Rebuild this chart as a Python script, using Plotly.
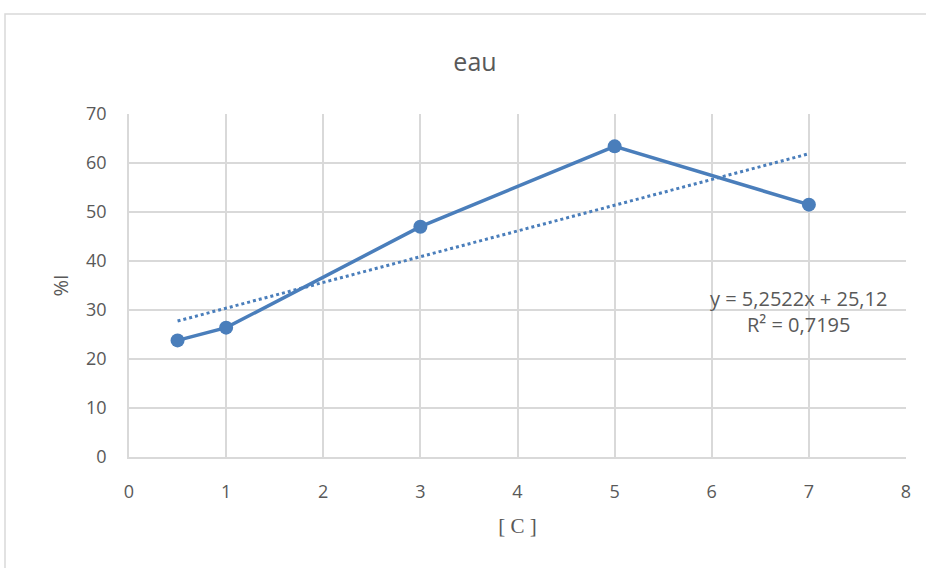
import plotly.graph_objects as go

# Data
x_vals = [0.5, 1, 3, 5, 7]
y_vals = [23.8, 26.4, 47.0, 63.4, 51.5]
trend_slope = 5.2522
trend_intercept = 25.12
trend_r2 = 0.7195
x_ticks = [0, 1, 2, 3, 4, 5, 6, 7, 8]
y_ticks = [0, 10, 20, 30, 40, 50, 60, 70]

blue = "#4a7ebb"
grey_txt = "#595959"
grid = "#d9d9d9"
sans = "Open Sans, Lato, sans-serif"

trend_x = [min(x_vals), max(x_vals)]
trend_y = [trend_slope * v + trend_intercept for v in trend_x]

fig = go.Figure()
fig.add_trace(go.Scatter(x=trend_x, y=trend_y, mode="lines",
                         line=dict(color=blue, width=3, dash="dot"),
                         showlegend=False, hoverinfo="skip"))
fig.add_trace(go.Scatter(x=x_vals, y=y_vals, mode="lines+markers",
                         line=dict(color=blue, width=3.5),
                         marker=dict(color=blue, size=14),
                         showlegend=False))

def fmt(v, d):
    return f"{v:.{d}f}".replace(".", ",")

eq_text = f"y = {fmt(trend_slope,4)}x + {fmt(trend_intercept,2)}<br>R² = {fmt(trend_r2,4)}"

L, R, T, B = 129, 20, 114, 111
W, H = 926, 568
pw, ph = W - L - R, H - T - B

def px_x(p):
    return (p - L) / pw

def px_y(p):
    return (H - B - p) / ph

fig.add_annotation(x=px_x(798), y=px_y(311), xref="paper", yref="paper", text=eq_text,
                   showarrow=False, font=dict(family=sans, size=20, color=grey_txt),
                   align="center", xanchor="center", yanchor="middle")

fig.add_shape(type="rect", xref="paper", yref="paper",
              x0=px_x(5), x1=px_x(940), y0=px_y(580), y1=px_y(14),
              line=dict(color="#d9d9d9", width=1.5), layer="below")

fig.update_layout(
    width=W, height=H,
    margin=dict(l=L, r=R, t=T, b=B),
    paper_bgcolor="white", plot_bgcolor="white",
    title=dict(text="eau", x=475 / W, xanchor="center", y=1 - 62 / H, yanchor="middle",
               font=dict(family=sans, size=25, color=grey_txt)),
    xaxis=dict(range=[0, 8], tickvals=x_ticks, showgrid=True, gridcolor=grid, gridwidth=1.5,
               zeroline=False, showline=True, linecolor=grid, linewidth=1.5, ticks="",
               ticklabelstandoff=18,
               tickfont=dict(family=sans, size=18, color=grey_txt),
               title=dict(text="[ C ]", standoff=16,
                          font=dict(family="Liberation Serif, DejaVu Serif, serif", size=21, color=grey_txt))),
    yaxis=dict(range=[0, 70], tickvals=y_ticks, showgrid=True, gridcolor=grid, gridwidth=1.5,
               zeroline=False, showline=True, linecolor=grid, linewidth=1.5, ticks="",
               ticklabelstandoff=17,
               tickfont=dict(family=sans, size=18, color=grey_txt),
               title=dict(text="%I", standoff=12,
                          font=dict(family=sans, size=20, color=grey_txt))),
)

fig.write_html("out.html", config={"displayModeBar": False},
               post_script="document.body.style.margin='0';")
